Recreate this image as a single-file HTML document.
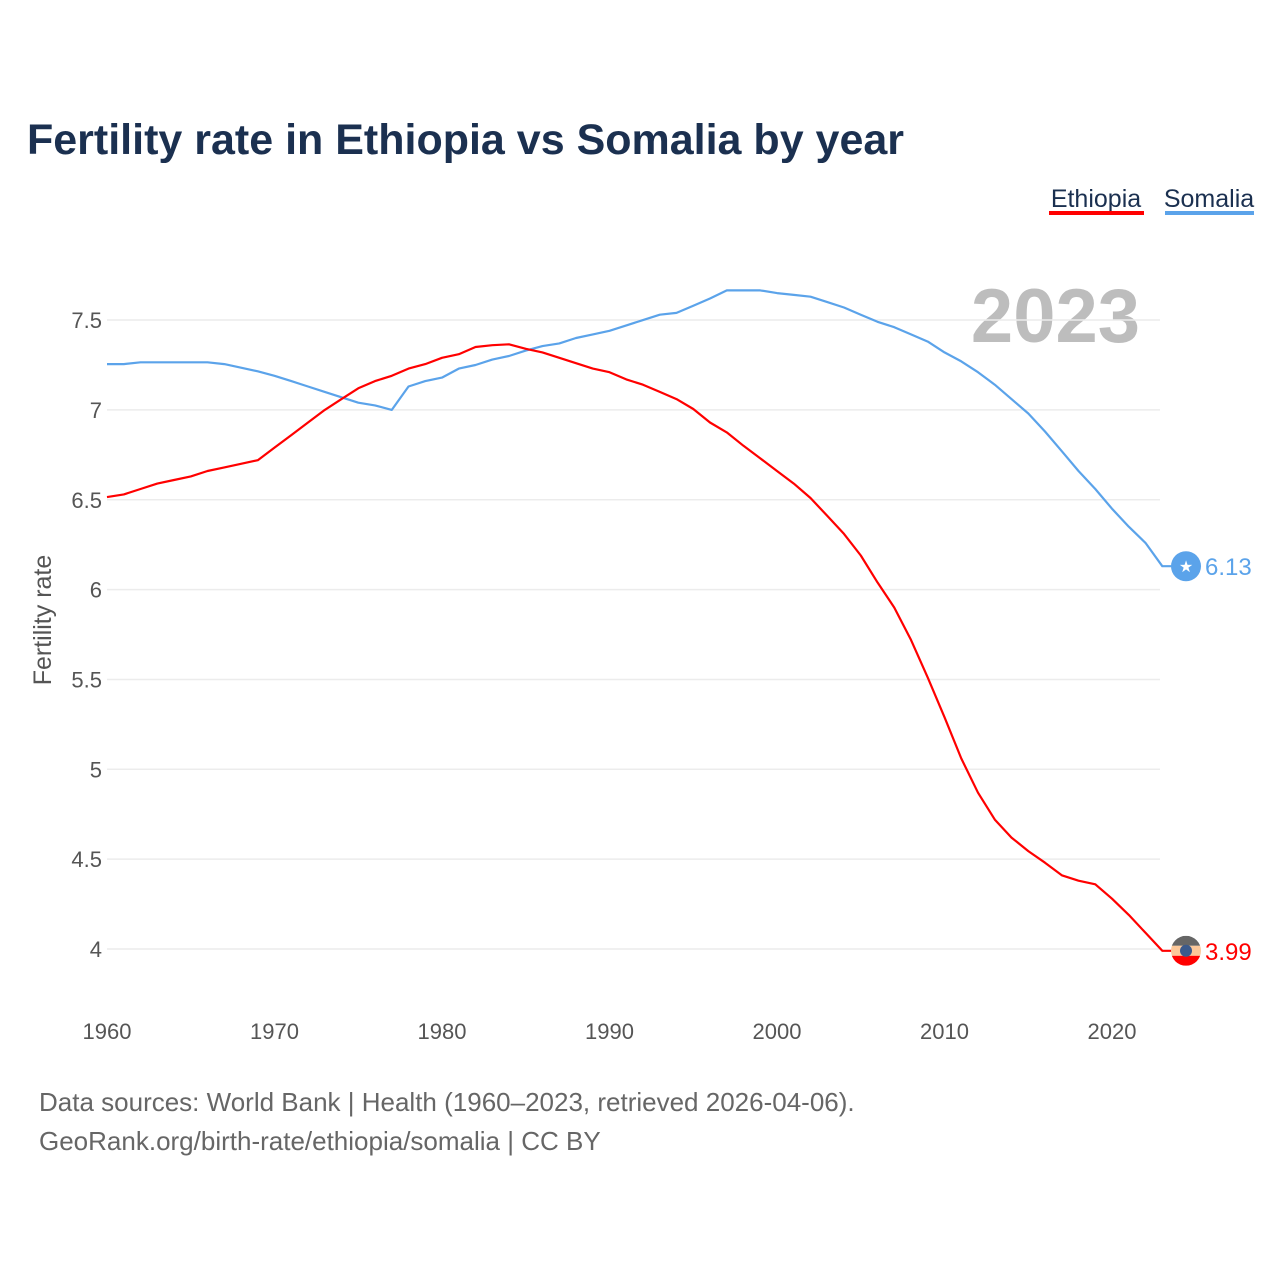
<!DOCTYPE html>
<html><head><meta charset="utf-8"><style>
body{margin:0;background:#fff;}
svg text{font-family:"Liberation Sans",sans-serif;}
</style></head><body>
<svg id="chart" width="1280" height="1280" xmlns="http://www.w3.org/2000/svg">
<rect width="1280" height="1280" fill="#fff"/>
<text x="27" y="154" font-size="43" font-weight="bold" fill="#1b3050">Fertility rate in Ethiopia vs Somalia by year</text>
<g>
<text x="1096" y="207" font-size="25" fill="#1b3050" text-anchor="middle">Ethiopia</text>
<rect x="1049" y="211" width="95" height="4" fill="#ff0000"/></g>
<g>
<text x="1209" y="207" font-size="25" fill="#1b3050" text-anchor="middle">Somalia</text>
<rect x="1165" y="211" width="89" height="4" fill="#5ba3ea"/></g>
<text x="1140" y="342" font-size="76" font-weight="bold" fill="#bdbdbd" text-anchor="end">2023</text>
<g id="grid"></g><g id="xt"></g>
<text transform="translate(51,620) rotate(-90)" font-size="25" fill="#555" text-anchor="middle">Fertility rate</text>
<g id="series"></g>
<text x="39" y="1111" font-size="26" fill="#666">Data sources: World Bank | Health (1960–2023, retrieved 2026-04-06).</text>
<text x="39" y="1150" font-size="26" fill="#666">GeoRank.org/birth-rate/ethiopia/somalia | CC BY</text>
</svg>
<script>
const years=[];for(let y=1960;y<=2023;y++)years.push(y);
const ethiopia=[6.515,6.53,6.56,6.59,6.61,6.63,6.66,6.68,6.70,6.72,6.79,6.86,6.93,7.00,7.06,7.12,7.16,7.19,7.23,7.255,7.29,7.31,7.35,7.36,7.365,7.34,7.32,7.29,7.26,7.23,7.21,7.17,7.14,7.10,7.06,7.005,6.93,6.875,6.80,6.73,6.66,6.59,6.51,6.41,6.31,6.19,6.04,5.90,5.72,5.51,5.29,5.06,4.87,4.72,4.62,4.545,4.48,4.41,4.38,4.36,4.28,4.19,4.09,3.99];
const somalia=[7.255,7.255,7.265,7.265,7.265,7.265,7.265,7.255,7.235,7.215,7.19,7.16,7.13,7.10,7.07,7.04,7.025,7.00,7.13,7.16,7.18,7.23,7.25,7.28,7.30,7.33,7.355,7.37,7.40,7.42,7.44,7.47,7.50,7.53,7.54,7.58,7.62,7.665,7.665,7.665,7.65,7.64,7.63,7.60,7.57,7.53,7.49,7.46,7.42,7.38,7.32,7.27,7.21,7.14,7.06,6.98,6.88,6.77,6.66,6.56,6.45,6.35,6.26,6.13];
const yTicks=[4,4.5,5,5.5,6,6.5,7,7.5];
const xTicks=[1960,1970,1980,1990,2000,2010,2020];
const X=y=>107+(y-1960)*16.75;
const Y=v=>949-(v-4)*179.7;
const NS="http://www.w3.org/2000/svg";
function mk(t,a,p){const e=document.createElementNS(NS,t);for(const k in a)e.setAttribute(k,a[k]);p.appendChild(e);return e;}
const grid=document.getElementById('grid');
yTicks.forEach(v=>{
 const l=mk('line',{x1:107,x2:1160,y1:Y(v),y2:Y(v),stroke:'#ececec','stroke-width':1.5},grid);
 
 
 const t=mk('text',{x:102,y:Y(v)+8,'font-size':22,fill:'#555','text-anchor':'end'},grid);
 t.textContent=String(v);
 
 
});
const xt=document.getElementById('xt');
xTicks.forEach(v=>{
 const t=mk('text',{x:X(v),y:1039,'font-size':22,fill:'#555','text-anchor':'middle'},xt);
 t.textContent=String(v);
 
 
});
const sg=document.getElementById('series');
function line(data,color,name){
 const d=data.map((v,i)=>(i?'L':'M')+X(years[i]).toFixed(1)+','+Y(v).toFixed(1)).join('')+'L'+(X(2023)+10)+','+Y(data[data.length-1]).toFixed(1);
 const p=mk('path',{d:d,fill:'none',stroke:color,'stroke-width':2.2,'stroke-linejoin':'round'},sg);
 
 
}
line(somalia,'#5ba3ea','somalia-line');
line(ethiopia,'#ff0000','ethiopia-line');
const sv=somalia[somalia.length-1], ev=ethiopia[ethiopia.length-1];
const sm=mk('g',{},sg);


mk('circle',{cx:1186,cy:Y(sv),r:15,fill:'#5ba3ea'},sm);
const st=mk('text',{x:1186,y:Y(sv)+6,'font-size':16,fill:'#fff','text-anchor':'middle'},sm);st.textContent='★';
const sl=mk('text',{x:1205,y:Y(sv)+9,'font-size':24,fill:'#5ba3ea'},sg);
sl.textContent=sv.toFixed(2);


const em=mk('g',{},sg);


const cy=Y(ev);
mk('clipPath',{id:'fc'},em).appendChild(document.createElementNS(NS,'circle'));
const cc=em.querySelector('clipPath circle');cc.setAttribute('cx',1186);cc.setAttribute('cy',cy);cc.setAttribute('r',15);
const fg=mk('g',{'clip-path':'url(#fc)'},em);
mk('rect',{x:1171,y:cy-15,width:30,height:10,fill:'#666'},fg);
mk('rect',{x:1171,y:cy-5,width:30,height:10,fill:'#fcc89a'},fg);
mk('rect',{x:1171,y:cy+5,width:30,height:10,fill:'#ff0000'},fg);
mk('circle',{cx:1186,cy:cy,r:6,fill:'#3b5a8c'},fg);
const el=mk('text',{x:1205,y:cy+9,'font-size':24,fill:'#ff0000'},sg);
el.textContent=ev.toFixed(2);


</script>
</body></html>
